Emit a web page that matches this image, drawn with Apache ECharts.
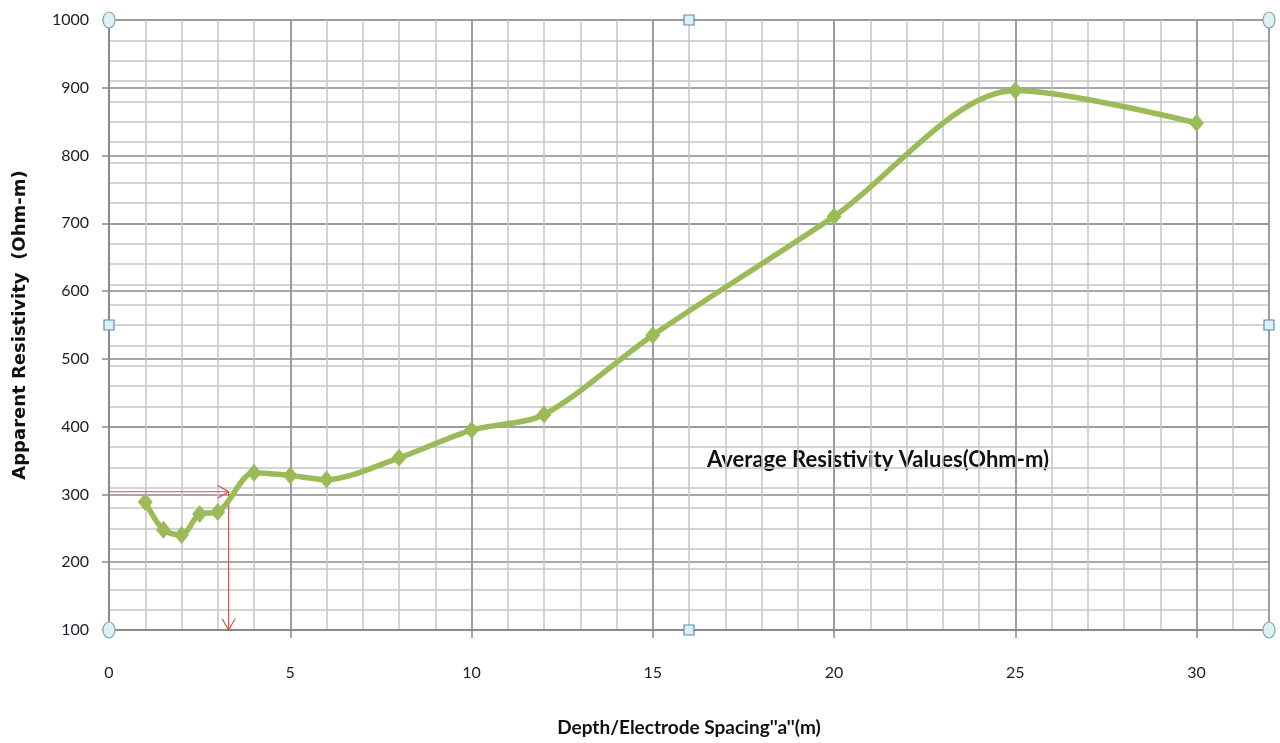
<!DOCTYPE html>
<html>
<head>
<meta charset="utf-8">
<script src="https://cdn.jsdelivr.net/npm/echarts@6/dist/echarts.min.js"></script>
<style>
  html, body { margin: 0; padding: 0; background: #fff; }
  #chart { width: 1280px; height: 743px; }
</style>
</head>
<body>
<div id="chart"></div>
<script>
// Electrode spacing a (m) and measured apparent resistivity (Ohm-m)
const spacing = [1, 1.5, 2, 2.5, 3, 4, 5, 6, 8, 10, 12, 15, 20, 25, 30];
const resistivity = [289, 248, 240, 271, 274, 332, 328, 322, 354, 395, 418, 535, 710, 896, 848];

// Read-off guide: resistivity level and the spacing where the curve crosses it
const guideLevel = [304];
const guideSpacing = [3.3];

const xTicks = { min: 0, max: 32, major: 5, minor: 1 };
const yTicks = { min: 100, max: 1000, major: 100, minor: 30 };

const GRID = { left: 109, right: 11, top: 20, bottom: 113 };
const W = 1280, H = 743;

const labelFont = 'Lato, "Open Sans", sans-serif';

const chart = echarts.init(document.getElementById('chart'), null, { renderer: 'canvas' });

const minorLine = { show: true, lineStyle: { color: '#c6c6c6', width: 1.5 } };
const majorLine = { show: true, lineStyle: { color: '#8a8a8a', width: 1.5 } };

function arrowItem(params, api) {
  const a = api.coord([api.value(0), api.value(1)]);
  const b = api.coord([api.value(2), api.value(3)]);
  const ang = Math.atan2(b[1] - a[1], b[0] - a[0]);
  const len = 13, spread = Math.PI / 6;
  const h1 = [b[0] - len * Math.cos(ang - spread), b[1] - len * Math.sin(ang - spread)];
  const h2 = [b[0] - len * Math.cos(ang + spread), b[1] - len * Math.sin(ang + spread)];
  const style = { stroke: '#d9504a', lineWidth: 1.2, fill: null };
  return {
    type: 'group',
    children: [
      { type: 'line', shape: { x1: a[0], y1: a[1], x2: b[0], y2: b[1] }, style },
      { type: 'polyline', shape: { points: [h1, b, h2] }, style }
    ]
  };
}

const arrows = [
  [xTicks.min, guideLevel[0], guideSpacing[0], guideLevel[0]],
  [guideSpacing[0], guideLevel[0], guideSpacing[0], yTicks.min]
];

// Selection handles around the plot frame
const gx0 = GRID.left, gx1 = W - GRID.right, gy0 = GRID.top, gy1 = H - GRID.bottom;
const gxm = (gx0 + gx1) / 2, gym = (gy0 + gy1) / 2;
const handleStyle = { fill: '#dcf0f5', stroke: '#8aa4ae', lineWidth: 1.2 };
const handles = [];
[[gx0, gy0], [gx1, gy0], [gx0, gy1], [gx1, gy1]].forEach(p => {
  handles.push({ type: 'ellipse', shape: { cx: p[0], cy: p[1], rx: 6, ry: 8 }, style: handleStyle, z: 100 });
});
[[gxm, gy0], [gxm, gy1], [gx0, gym], [gx1, gym]].forEach(p => {
  handles.push({ type: 'rect', shape: { x: p[0] - 5, y: p[1] - 5, width: 10, height: 10 }, style: { fill: '#dcf0f5', stroke: '#5b8cb8', lineWidth: 1.2 }, z: 100 });
});

chart.setOption({
  animation: false,
  backgroundColor: '#ffffff',
  grid: {
    left: GRID.left, right: GRID.right, top: GRID.top, bottom: GRID.bottom,
    containLabel: false, outerBoundsMode: 'none'
  },
  xAxis: [
    {
      type: 'value', position: 'bottom', min: xTicks.min, max: xTicks.max, interval: xTicks.minor,
      axisLine: { show: false }, axisTick: { show: false }, axisLabel: { show: false },
      splitLine: minorLine
    },
    {
      type: 'value', position: 'bottom', min: xTicks.min, max: xTicks.max, interval: xTicks.major,
      name: "Depth/Electrode Spacing''a''(m)", nameLocation: 'middle', nameGap: 88,
      nameTextStyle: { fontFamily: labelFont, fontSize: 19, color: '#111', fontWeight: 'bold' },
      axisLine: { show: true, onZero: false, lineStyle: { color: '#8a8a8a', width: 2 } },
      axisTick: { show: true, length: 8, lineStyle: { color: '#8a8a8a', width: 1.5 } },
      axisLabel: { margin: 35, fontSize: 16, color: '#1c1c2c', fontFamily: labelFont, showMaxLabel: false },
      splitLine: majorLine
    }
  ],
  yAxis: [
    {
      type: 'value', position: 'left', min: yTicks.min, max: yTicks.max, interval: yTicks.minor,
      axisLine: { show: false }, axisTick: { show: false }, axisLabel: { show: false },
      splitLine: minorLine
    },
    {
      type: 'value', position: 'left', min: yTicks.min, max: yTicks.max, interval: yTicks.major,
      name: 'Apparent Resistivity  (Ohm-m)', nameLocation: 'middle', nameGap: 80, nameRotate: 90,
      nameTextStyle: { fontFamily: '"DejaVu Sans", Verdana, sans-serif', fontSize: 18, color: '#111', fontWeight: 'bold' },
      axisLine: { show: true, onZero: false, lineStyle: { color: '#8a8a8a', width: 2 } },
      axisTick: { show: true, length: 7, lineStyle: { color: '#8a8a8a', width: 1.5 } },
      axisLabel: { margin: 20, fontSize: 16, color: '#1c1c2c', fontFamily: labelFont, formatter: v => String(v) },
      splitLine: majorLine
    }
  ],
  series: [
    {
      type: 'line', xAxisIndex: 1, yAxisIndex: 1,
      data: spacing.map((x, i) => [x, resistivity[i]]),
      smooth: 0.3,
      symbol: 'diamond', symbolSize: [15, 18],
      lineStyle: { color: '#9bbb59', width: 5.5 },
      itemStyle: { color: '#9bbb59' },
      z: 5
    },
    {
      type: 'custom', xAxisIndex: 1, yAxisIndex: 1,
      data: arrows, encode: { x: [0, 2], y: [1, 3] },
      renderItem: arrowItem, clip: false, silent: true, z: 4
    }
  ],
  graphic: [
    {
      type: 'text', left: 707, top: 449,
      style: { text: 'Average Resistivity Values(Ohm-m)', font: 'bold 22px ' + labelFont, fill: '#111' }
    }
  ].concat(handles)
});
</script>
</body>
</html>
